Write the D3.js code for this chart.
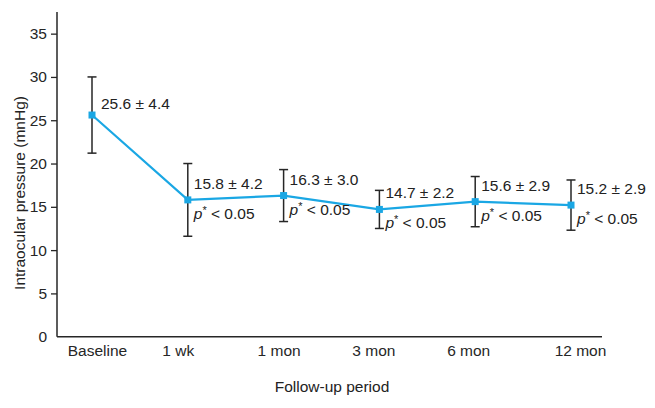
<!DOCTYPE html>
<html lang="en">
<head>
  <meta charset="utf-8">
  <title>Intraocular pressure</title>
  <script src="https://d3js.org/d3.v7.min.js"></script>
  <style>
    body { margin: 0; background: #fff; }
    text { font-family: "Liberation Sans", Arial, sans-serif; fill: #222; }
  </style>
</head>
<body>
	<script type="text/javascript">

		// Data
		var periods = ["Baseline", "1 wk", "1 mon", "3 mon", "6 mon", "12 mon"];
		var means = [25.6, 15.8, 16.3, 14.7, 15.6, 15.2];
		var sds = [4.4, 4.2, 3.0, 2.2, 2.9, 2.9];
		var pNotes = [null, "< 0.05", "< 0.05", "< 0.05", "< 0.05", "< 0.05"];
		var yTicks = [0, 5, 10, 15, 20, 25, 30, 35];

		var width = 655, height = 408;
		var lineColor = "#1aa7e4";
		var inkColor = "#262626";
		var fontSize = "15.5px";
		// the category labels in the original sit a little off their points
		var labelNudge = [5, -10, -5, -6, -7, 9];

		var svg = d3.select("body")
					.append("svg")
					.attr("width", width)
					.attr("height", height);

		// Scales
		var xScale = d3.scalePoint()
					   .domain(periods)
					   .range([92, 571]);

		var yScale = d3.scaleLinear()
					   .domain([0, 37.5])
					   .range([336.7, 12]);

		// Y axis
		var yAxis = d3.axisLeft(yScale)
					  .tickValues(yTicks)
					  .tickSize(6)
					  .tickPadding(4);

		var gy = svg.append("g")
					.attr("transform", "translate(57,0)")
					.call(yAxis);
		gy.select(".domain").attr("stroke", inkColor).attr("stroke-width", 1.5).attr("d", "M0," + yScale.range()[1] + "V" + yScale(0));
		gy.selectAll(".tick line").attr("stroke", inkColor).attr("stroke-width", 1.3);
		gy.selectAll(".tick").filter(function(d) { return d === 0; }).select("line").remove();
		gy.selectAll(".tick text").attr("font-size", fontSize).style("fill", inkColor);

		// X axis line + labels
		var xAxis = d3.axisBottom(xScale)
					  .tickSize(0)
					  .tickPadding(8);

		var gx = svg.append("g")
					.attr("transform", "translate(0," + yScale(0) + ")")
					.call(xAxis);
		gx.select(".domain").attr("stroke", inkColor).attr("stroke-width", 1.5).attr("d", "M57,0H602");
		gx.selectAll(".tick text")
		  .attr("font-size", fontSize)
		  .attr("dx", function(d, i) { return labelNudge[i]; })
		  .style("fill", inkColor);

		// Axis titles
		svg.append("text")
		   .attr("transform", "translate(20,193) rotate(-90)")
		   .attr("text-anchor", "middle")
		   .attr("dy", "0.35em")
		   .attr("font-size", fontSize)
		   .text("Intraocular pressure (mnHg)");

		svg.append("text")
		   .attr("x", 332)
		   .attr("y", 392)
		   .attr("text-anchor", "middle")
		   .attr("font-size", fontSize)
		   .text("Follow-up period");

		var rows = periods.map(function(p, i) {
			return { period: p, mean: means[i], sd: sds[i], p: pNotes[i] };
		});

		// Error bars
		var bars = svg.append("g").attr("stroke", inkColor).attr("stroke-width", 1.5);
		bars.selectAll(".stem")
			.data(rows)
			.enter()
			.append("line")
			.attr("x1", function(d) { return xScale(d.period); })
			.attr("x2", function(d) { return xScale(d.period); })
			.attr("y1", function(d) { return yScale(d.mean - d.sd); })
			.attr("y2", function(d) { return yScale(d.mean + d.sd); });
		["lo", "hi"].forEach(function(k) {
			bars.selectAll(".cap-" + k)
				.data(rows)
				.enter()
				.append("line")
				.attr("x1", function(d) { return xScale(d.period) - 4.5; })
				.attr("x2", function(d) { return xScale(d.period) + 4.5; })
				.attr("y1", function(d) { return yScale(k === "lo" ? d.mean - d.sd : d.mean + d.sd); })
				.attr("y2", function(d) { return yScale(k === "lo" ? d.mean - d.sd : d.mean + d.sd); });
		});

		// Mean line
		var line = d3.line()
					 .x(function(d) { return xScale(d.period); })
					 .y(function(d) { return yScale(d.mean); });

		svg.append("path")
		   .datum(rows)
		   .attr("d", line)
		   .attr("fill", "none")
		   .attr("stroke", lineColor)
		   .attr("stroke-width", 2.2);

		svg.selectAll(".marker")
		   .data(rows)
		   .enter()
		   .append("rect")
		   .attr("x", function(d) { return xScale(d.period) - 3.5; })
		   .attr("y", function(d) { return yScale(d.mean) - 3.5; })
		   .attr("width", 7)
		   .attr("height", 7)
		   .attr("fill", lineColor);

		// Value labels
		svg.selectAll(".val")
		   .data(rows)
		   .enter()
		   .append("text")
		   .attr("x", function(d, i) { return xScale(d.period) + (i === 0 ? 9 : 6); })
		   .attr("y", function(d, i) { return yScale(d.mean) - (i === 0 ? 6 : 11); })
		   .attr("font-size", fontSize)
		   .text(function(d) { return d.mean.toFixed(1) + " \u00b1 " + d.sd.toFixed(1); });

		var pText = svg.selectAll(".pnote")
		   .data(rows.filter(function(d) { return d.p; }))
		   .enter()
		   .append("text")
		   .attr("x", function(d) { return xScale(d.period) + 6; })
		   .attr("y", function(d) { return yScale(d.mean) + 19; })
		   .attr("font-size", fontSize);
		pText.append("tspan").attr("font-style", "italic").text("p");
		pText.append("tspan").attr("font-size", "11px").attr("dy", "-5").text("*");
		pText.append("tspan").attr("dy", "5").text(function(d) { return " " + d.p; });

	</script>
</body>
</html>
